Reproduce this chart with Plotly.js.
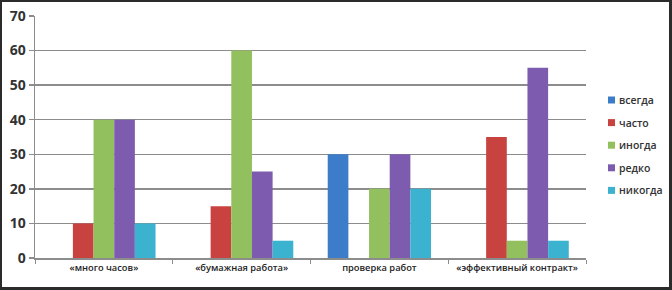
<!DOCTYPE html>
<html><head><meta charset="utf-8">
<script src="https://cdn.plot.ly/plotly-3.0.1.min.js"></script>
<style>
html,body{margin:0;padding:0;background:#fff;}
#wrap{position:relative;width:672px;height:290px;}
#chart{position:absolute;left:0;top:0;width:672px;height:290px;}
#frame{position:absolute;left:0;top:0;width:672px;height:290px;box-sizing:border-box;border:3px solid #2b2b2b;border-top-width:2px;border-left-width:2px;pointer-events:none;}
</style></head>
<body><div id="wrap"><div id="chart"></div><div id="frame"></div></div>
<script>
const categories = ['«много часов»', '«бумажная работа»', 'проверка работ', '«эффективный контракт»'];
const seriesNames = ['всегда', 'часто', 'иногда', 'редко', 'никогда'];
const vsegda  = [0, 0, 30, 0];
const chasto  = [10, 15, 0, 35];
const inogda  = [40, 60, 20, 5];
const redko   = [40, 25, 30, 55];
const nikogda = [10, 5, 20, 5];
const yTicks = [0, 10, 20, 30, 40, 50, 60, 70];

const colors = ['#3d7cc9', '#c8433f', '#93c05e', '#7d5cb0', '#3bb2cf'];
const values = [vsegda, chasto, inogda, redko, nikogda];

const traces = seriesNames.map((n, i) => ({
  type: 'bar', name: n, x: categories, y: values[i],
  marker: {color: colors[i], line: {width: 0}},
  showlegend: false,
  hoverinfo: 'skip'
}));

// Custom legend (small squares like the original), placed in paper coordinates
const plotL = 35, plotR = 586, plotT = 16, plotB = 258;
const pw = plotR - plotL, ph = plotB - plotT;
const legX0 = 608, legSq = 7, legTextX = 617, legY0 = 100, legStep = 22.6;
const shapes = [], annotations = [];
seriesNames.forEach((n, i) => {
  const cy = legY0 + i * legStep;
  shapes.push({type: 'rect', xref: 'paper', yref: 'paper',
    x0: (legX0 - plotL) / pw, x1: (legX0 + legSq - plotL) / pw,
    y0: (plotB - (cy + legSq / 2)) / ph, y1: (plotB - (cy - legSq / 2)) / ph,
    fillcolor: colors[i], line: {width: 0}});
  annotations.push({xref: 'paper', yref: 'paper', x: (legTextX - plotL) / pw, y: (plotB - cy) / ph,
    xanchor: 'left', yanchor: 'middle', showarrow: false, text: n,
    font: {family: 'Open Sans, sans-serif', size: 10.5, color: '#333', weight: 600}});
});

const layout = {
  width: 672, height: 290,
  margin: {l: plotL, r: 672 - plotR, t: plotT, b: 290 - plotB},
  paper_bgcolor: '#fff', plot_bgcolor: '#fff',
  barmode: 'group', bargap: 0.25, bargroupgap: 0,
  showlegend: false,
  shapes: shapes, annotations: annotations,
  xaxis: {
    type: 'category', showline: true, linecolor: '#8c8c8c', linewidth: 1.5,
    ticks: 'outside', tickson: 'boundaries', ticklen: 4, tickcolor: '#8c8c8c', tickwidth: 1,
    tickangle: 0, automargin: false,
    tickfont: {family: 'Open Sans, sans-serif', size: 9.3, color: '#222', weight: 600},
    showgrid: false, fixedrange: true
  },
  yaxis: {
    range: [0, 70], tickvals: yTicks, ticktext: yTicks.map(String),
    showline: true, linecolor: '#8c8c8c', linewidth: 1.5,
    ticks: 'outside', ticklen: 5, tickcolor: '#8c8c8c', tickwidth: 1.5,
    showgrid: true, gridcolor: '#8c8c8c', gridwidth: 1.5,
    zeroline: false, automargin: false,
    tickfont: {family: 'Open Sans, sans-serif', size: 14, color: '#333', weight: 700},
    fixedrange: true
  }
};
Plotly.newPlot('chart', traces, layout, {staticPlot: true, displayModeBar: false});
</script></body></html>
